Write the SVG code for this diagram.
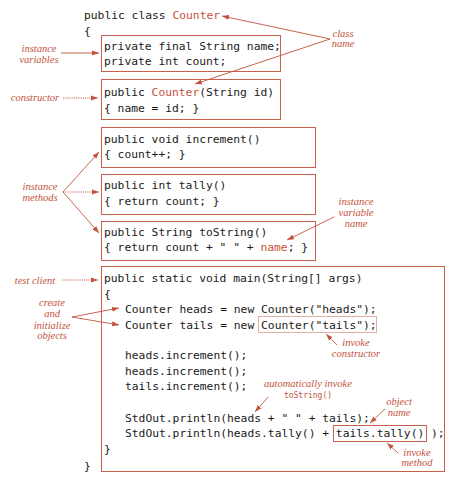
<svg xmlns="http://www.w3.org/2000/svg" width="470" height="487" viewBox="0 0 470 487">
<style>
.code{font-family:"DejaVu Sans Mono","Liberation Mono",monospace;font-size:11.3px;fill:#1a1a1a}
.red{fill:#c3533d}
.note{font-family:"Liberation Serif","DejaVu Serif",serif;font-style:italic;font-size:10.5px;fill:#c3533d;text-anchor:middle}
.small{font-family:"DejaVu Sans Mono","Liberation Mono",monospace;font-size:8px;fill:#c3533d;text-anchor:middle}
.box{fill:none;stroke:#c9604b;stroke-width:1}
.dotbox{fill:none;stroke:#c9604b;stroke-width:1;stroke-dasharray:1 1}
.ln{fill:none;stroke:#c3533d;stroke-width:0.9;marker-end:url(#ah)}
.dl{fill:none;stroke:#c3533d;stroke-width:0.9;stroke-dasharray:1.2 1;marker-end:url(#ah)}
</style>
<defs>
<marker id="ah" markerUnits="userSpaceOnUse" markerWidth="8" markerHeight="6" refX="7" refY="3" orient="auto">
<path d="M0,0.5 L7,3 L0,5.5 z" fill="#c3533d"/>
</marker>
</defs>
<rect width="470" height="487" fill="#fff"/>

<g id="header">
<text class="code" x="84" y="19">public class <tspan class="red">Counter</tspan></text>
<text class="code" x="84" y="35">{</text>
<text class="code" x="84" y="470">}</text>
</g>

<g id="instance-variables">
<rect class="box" x="101.5" y="35.5" width="179" height="36"/>
<text class="code" x="104" y="50">private final String name;</text>
<text class="code" x="104" y="65">private int count;</text>
</g>

<g id="constructor">
<rect class="box" x="101.5" y="79.5" width="179" height="40"/>
<text class="code" x="104" y="96">public <tspan class="red">Counter</tspan>(String id)</text>
<text class="code" x="104" y="112">{ name = id; }</text>
</g>

<g id="increment">
<rect class="box" x="101.5" y="127.5" width="214" height="40"/>
<text class="code" x="104" y="143">public void increment()</text>
<text class="code" x="104" y="158">{ count++; }</text>
</g>

<g id="tally">
<rect class="box" x="101.5" y="174.5" width="214" height="40"/>
<text class="code" x="104" y="189">public int tally()</text>
<text class="code" x="104" y="205">{ return count; }</text>
</g>

<g id="toString">
<rect class="box" x="101.5" y="221.5" width="214" height="39"/>
<text class="code" x="104" y="236">public String toString()</text>
<text class="code" x="104" y="251">{ return count + " " + <tspan class="red">name</tspan>; }</text>
</g>

<g id="main">
<rect class="box" x="101.5" y="266.5" width="343" height="205"/>
<text class="code" x="104" y="282">public static void main(String[] args)</text>
<text class="code" x="104" y="298">{</text>
<text class="code" x="125" y="313">Counter heads = new Counter("heads");</text>
<text class="code" x="125" y="329">Counter tails = new Counter("tails");</text>
<text class="code" x="125" y="359">heads.increment();</text>
<text class="code" x="125" y="375">heads.increment();</text>
<text class="code" x="125" y="390">tails.increment();</text>
<text class="code" x="125" y="422">StdOut.println(heads + " " + tails);</text>
<text class="code" x="125" y="437">StdOut.println(heads.tally() + tails.tally() );</text>
<text class="code" x="104" y="453">}</text>
<rect class="dotbox" x="258.5" y="316.5" width="118" height="16"/>
<rect class="box" x="333.5" y="425.5" width="93" height="16"/>
</g>

<g id="annotations">
<text class="note" x="343" y="37">class</text>
<text class="note" x="343" y="47">name</text>
<text class="note" x="39" y="52">instance</text>
<text class="note" x="39" y="63">variables</text>
<text class="note" x="35" y="101">constructor</text>
<text class="note" x="40" y="190">instance</text>
<text class="note" x="40" y="201">methods</text>
<text class="note" x="356" y="205">instance</text>
<text class="note" x="356" y="216">variable</text>
<text class="note" x="356" y="227">name</text>
<text class="note" x="35" y="284">test client</text>
<text class="note" x="52" y="306">create</text>
<text class="note" x="52" y="317">and</text>
<text class="note" x="52" y="329">initialize</text>
<text class="note" x="52" y="339">objects</text>
<text class="note" x="356" y="346">invoke</text>
<text class="note" x="356" y="357">constructor</text>
<text class="note" x="308" y="387">automatically invoke</text>
<text class="small" x="308" y="398">toString()</text>
<text class="note" x="399" y="405">object</text>
<text class="note" x="399" y="416">name</text>
<text class="note" x="417" y="456">invoke</text>
<text class="note" x="417" y="466">method</text>
</g>

<g id="connectors">
<path class="ln" d="M330,39 L222,16"/>
<path class="ln" d="M330,39 L195,84"/>
<path class="ln" d="M61,53 L99,53"/>
<path class="dl" d="M63,98 L98,98"/>
<path class="ln" d="M63,192 L99,152"/>
<path class="dl" d="M63,192 L99,192"/>
<path class="ln" d="M63,192 L99,233"/>
<path class="ln" d="M334,217 L287,240"/>
<path class="dl" d="M62,280 L98,280"/>
<path class="ln" d="M72,317 L119,308"/>
<path class="ln" d="M72,317 L119,325"/>
<path class="ln" d="M337,345 L326,334"/>
<path class="ln" d="M268,397 L255,412"/>
<path class="ln" d="M385,409 L370,423"/>
<path class="ln" d="M398,453 L387,443"/>
</g>
</svg>
